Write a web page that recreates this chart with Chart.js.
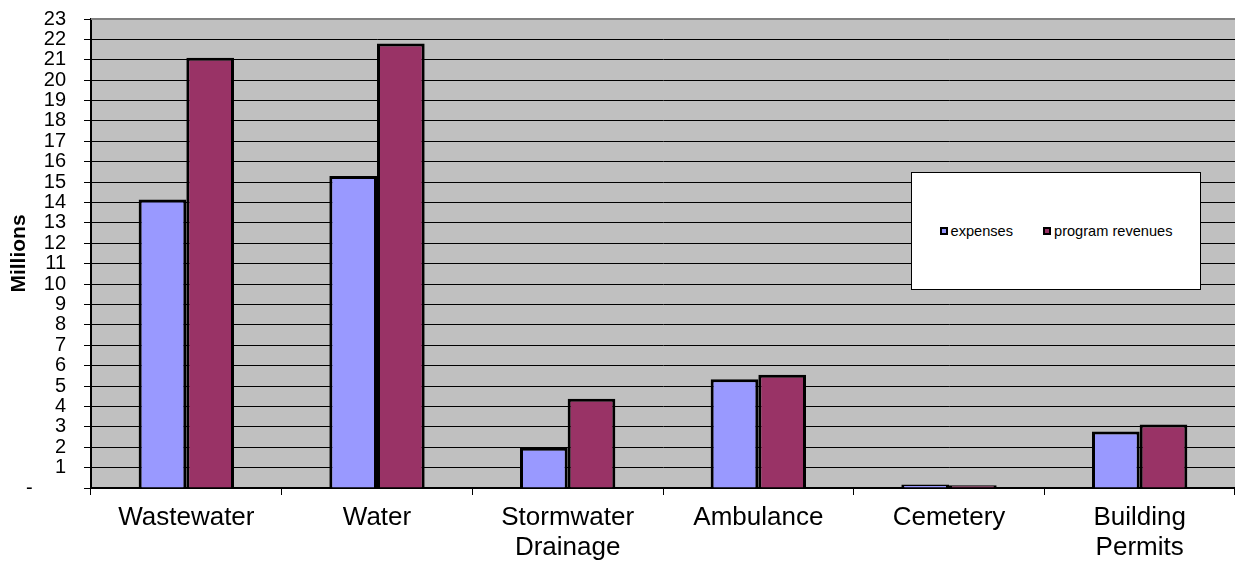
<!DOCTYPE html>
<html>
<head>
<meta charset="utf-8">
<script src="https://cdn.jsdelivr.net/npm/chart.js@4/dist/chart.umd.min.js"></script>
<style>
  body { margin: 0; background: #fff; }
  #wrap { position: relative; width: 1235px; height: 561px; }
  #legendBox {
    position: absolute; left: 911px; top: 172px; width: 288px; height: 116px;
    background: #fff; border: 1px solid #000;
    font-family: Arial, "Liberation Sans", sans-serif; font-size: 14.6px;
    display: flex; align-items: center; justify-content: center;
  }
  .item { display: flex; align-items: center; margin: 0 15px; }
  .sw { width: 4px; height: 4px; border: 2px solid #000; margin-right: 3px; }
</style>
</head>
<body>
<div id="wrap">
  <canvas id="graphCanvas" width="1235" height="561"></canvas>
  <div id="legendBox"></div>
</div>
<script>
var categories = [['Wastewater'], ['Water'], ['Stormwater', 'Drainage'], ['Ambulance'], ['Cemetery'], ['Building', 'Permits']];
var expenses = [14.15, 15.3, 1.98, 5.33, 0.17, 2.77];
var programRevenues = [21.1, 21.8, 4.38, 5.55, 0.13, 3.12];
var yTicks = [0, 1, 2, 3, 4, 5, 6, 7, 8, 9, 10, 11, 12, 13, 14, 15, 16, 17, 18, 19, 20, 21, 22, 23];

var font = 'Arial, "Liberation Sans", sans-serif';

var plotBg = {
    id: 'plotBg',
    beforeDraw: function (chart) {
        var a = chart.chartArea, c = chart.ctx;
        c.save();
        c.fillStyle = '#C0C0C0';
        c.fillRect(a.left, a.top, a.right - a.left, a.bottom - a.top);
        c.restore();
    },
    afterDraw: function (chart) {
        var a = chart.chartArea, c = chart.ctx;
        c.save();
        c.strokeStyle = '#808080';
        c.lineWidth = 2;
        c.beginPath();
        c.moveTo(a.left, a.top);
        c.lineTo(a.right, a.top);
        c.stroke();
        c.restore();
    }
};

var chartdata = {
    labels: categories,
    datasets: [{
        label: 'expenses',
        backgroundColor: '#9999FF',
        borderColor: '#000',
        borderWidth: 3,
        borderSkipped: 'bottom',
        data: expenses
    }, {
        label: 'program revenues',
        backgroundColor: '#993366',
        borderColor: '#000',
        borderWidth: 3,
        borderSkipped: 'bottom',
        data: programRevenues
    }]
};

var barGraph = new Chart(document.getElementById('graphCanvas'), {
    type: 'bar',
    data: chartdata,
    options: {
        responsive: false,
        animation: false,
        layout: { padding: { top: 19, right: 0, left: 0, bottom: 0 } },
        datasets: { bar: { categoryPercentage: 0.5, barPercentage: 1.0 } },
        plugins: { legend: { display: false }, tooltip: { enabled: false } },
        scales: {
            x: {
                grid: { offset: true, drawOnChartArea: false, tickLength: 7, color: '#000' },
                border: { color: '#000', width: 2 },
                ticks: { color: '#000', font: { family: font, size: 26, lineHeight: 1.15 }, maxRotation: 0, padding: 8 },
                afterFit: function (s) { s.height = 73; s.paddingLeft = 0; s.paddingRight = 0; }
            },
            y: {
                min: 0, max: 23,
                afterBuildTicks: function (s) { s.ticks = yTicks.map(function (v) { return { value: v }; }); },
                grid: { color: '#000', lineWidth: 1, tickLength: 7 },
                border: { color: '#000', width: 2 },
                ticks: {
                    color: '#000', font: { family: font, size: 20 }, padding: 18, autoSkip: false,
                    callback: function (v) { return v === 0 ? '-      ' : v; }
                },
                title: { display: true, text: 'Millions', color: '#000', font: { family: font, size: 21, weight: 'bold' }, padding: { top: 7, bottom: 0 } },
                afterFit: function (s) { s.width = 91; s.paddingTop = 0; s.paddingBottom = 0; }
            }
        }
    },
    plugins: [plotBg]
});

var box = document.getElementById('legendBox');
chartdata.datasets.forEach(function (d) {
    var it = document.createElement('div');
    it.className = 'item';
    var sw = document.createElement('span');
    sw.className = 'sw';
    sw.style.background = d.backgroundColor;
    var t = document.createElement('span');
    t.textContent = d.label;
    it.appendChild(sw);
    it.appendChild(t);
    box.appendChild(it);
});
</script>
</body>
</html>
